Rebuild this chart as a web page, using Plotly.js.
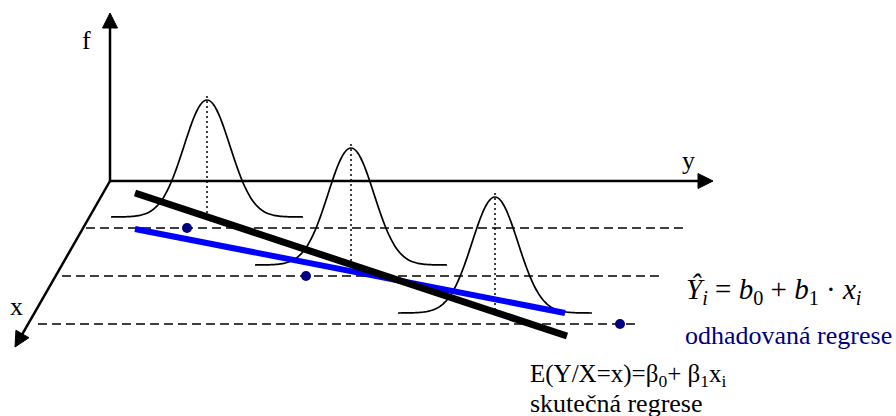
<!DOCTYPE html>
<html>
<head>
<meta charset="utf-8">
<script src="https://cdn.plot.ly/plotly-3.0.1.min.js"></script>
<style>html,body{margin:0;padding:0;background:#fff;}#chart{width:896px;height:416px;}</style>
</head>
<body>
<div id="chart"></div>
<script>
// ---- data (pixel-space diagram coordinates) ----
const axisOrigin = [110, 181];
const axisNames = ['f', 'y', 'x'];
const axisTipX = [110, 713, 15];
const axisTipY = [13, 181, 347];
const axisLabelX = [86, 688, 16];
const axisLabelY = [40, 160, 306];

const dashX0 = [86, 62, 38];
const dashX1 = [685, 660, 635];
const dashY = [228, 276, 324];

const pointX = [187, 306, 620];
const pointY = [228, 276, 324];

const bellMeanX = [207, 351, 495];
const bellBaseY = [217, 265, 313];
const bellHeight = [117, 117, 116];
const bellSigma = [23, 23, 23];
const bellHalfWidth = [96, 96, 97];

const trueLineX = [135, 567];
const trueLineY = [193, 336];
const estLineX = [135, 565];
const estLineY = [229, 313];

const fontFam = 'Liberation Serif';
const traces = [];

// dashed horizontal levels
for (let i = 0; i < dashY.length; i++) {
  traces.push({x: [dashX0[i], dashX1[i]], y: [dashY[i], dashY[i]], mode: 'lines',
    line: {color: '#000', width: 1.4, dash: '9px,5px'}, hoverinfo: 'skip'});
}

// bell curves and dotted centre lines
for (let i = 0; i < bellMeanX.length; i++) {
  const xs = [], ys = [];
  const n = 120;
  for (let k = 0; k <= n; k++) {
    const x = bellMeanX[i] - bellHalfWidth[i] + 2 * bellHalfWidth[i] * k / n;
    const d = (x - bellMeanX[i]) / bellSigma[i];
    xs.push(x);
    ys.push(bellBaseY[i] - bellHeight[i] * Math.exp(-0.5 * d * d));
  }
  traces.push({x: xs, y: ys, mode: 'lines', line: {color: '#000', width: 1.7, shape: 'spline'}, hoverinfo: 'skip'});
  traces.push({x: [bellMeanX[i], bellMeanX[i]], y: [bellBaseY[i] - bellHeight[i] - 4, bellBaseY[i] - 4],
    mode: 'lines', line: {color: '#000', width: 1.5, dash: '2px,3px'}, hoverinfo: 'skip'});
}

// axes lines + arrowheads
const headLen = 15, headHalf = 7.5;
for (let i = 0; i < axisTipX.length; i++) {
  const dx = axisTipX[i] - axisOrigin[0], dy = axisTipY[i] - axisOrigin[1];
  const L = Math.hypot(dx, dy), ux = dx / L, uy = dy / L;
  const bx = axisTipX[i] - ux * headLen, by = axisTipY[i] - uy * headLen;
  traces.push({x: [axisOrigin[0], bx + ux * 2], y: [axisOrigin[1], by + uy * 2], mode: 'lines',
    line: {color: '#000', width: 2.5}, hoverinfo: 'skip'});
  traces.push({x: [axisTipX[i], bx - uy * headHalf, bx + uy * headHalf, axisTipX[i]],
    y: [axisTipY[i], by + ux * headHalf, by - ux * headHalf, axisTipY[i]],
    mode: 'lines', fill: 'toself', fillcolor: '#000', line: {color: '#000', width: 1}, hoverinfo: 'skip'});
}

// sample points
traces.push({x: pointX, y: pointY, mode: 'markers', marker: {color: '#000080', size: 10}, hoverinfo: 'skip'});

// estimated (blue) and true (black) regression lines
traces.push({x: estLineX, y: estLineY, mode: 'lines', line: {color: '#0000ff', width: 6}, hoverinfo: 'skip'});
traces.push({x: trueLineX, y: trueLineY, mode: 'lines', line: {color: '#000', width: 7}, hoverinfo: 'skip'});

const annotations = [];
for (let i = 0; i < axisNames.length; i++) {
  annotations.push({x: axisLabelX[i], y: axisLabelY[i], text: axisNames[i], showarrow: false,
    xanchor: 'center', yanchor: 'middle', font: {family: fontFam, size: 26, color: '#000'}});
}
annotations.push({x: 684, y: 291, xanchor: 'left', yanchor: 'middle', showarrow: false,
  text: '<i>Ŷ<sub>i</sub></i> = <i>b</i><sub>0</sub> + <i>b</i><sub>1</sub> · <i>x<sub>i</sub></i>',
  font: {family: fontFam, size: 29, color: '#000'}});
annotations.push({x: 683, y: 335, xanchor: 'left', yanchor: 'middle', showarrow: false,
  text: 'odhadovaná regrese', font: {family: fontFam, size: 26, color: '#000080'}});
annotations.push({x: 528, y: 375, xanchor: 'left', yanchor: 'middle', showarrow: false,
  text: 'E(Y/X=x)=β<sub>0</sub>+ β<sub>1</sub>x<sub>i</sub>', font: {family: fontFam, size: 25, color: '#000'}});
annotations.push({x: 528, y: 403, xanchor: 'left', yanchor: 'middle', showarrow: false,
  text: 'skutečná regrese', font: {family: fontFam, size: 26, color: '#000'}});

const layout = {
  width: 896, height: 416,
  font: {family: fontFam, size: 26, color: '#000'},
  margin: {l: 0, r: 0, t: 0, b: 0, pad: 0},
  paper_bgcolor: '#fff', plot_bgcolor: '#fff',
  showlegend: false,
  xaxis: {range: [0, 896], visible: false, fixedrange: true},
  yaxis: {range: [416, 0], visible: false, fixedrange: true},
  annotations: annotations
};
Plotly.newPlot('chart', traces, layout, {displayModeBar: false, staticPlot: true});
</script>
</body>
</html>
